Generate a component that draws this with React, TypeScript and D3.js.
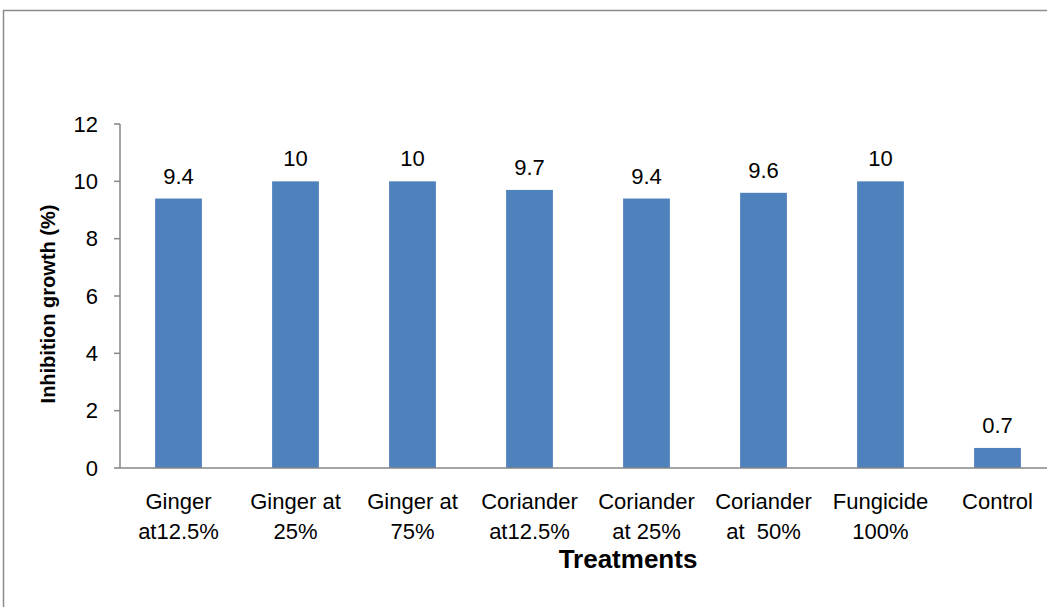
import * as d3 from "d3"

const categories = [
  ["Ginger", "at12.5%"],
  ["Ginger at", "25%"],
  ["Ginger at", "75%"],
  ["Coriander", "at12.5%"],
  ["Coriander", "at 25%"],
  ["Coriander", "at  50%"],
  ["Fungicide", "100%"],
  ["Control"],
]
const values = [9.4, 10, 10, 9.7, 9.4, 9.6, 10, 0.7]
const yTicks = [0, 2, 4, 6, 8, 10, 12]

const W = 1047
const H = 607
const FONT = "'Liberation Sans', Arial, sans-serif"

export default function App() {
  const keys = categories.map((c) => c.join(" "))
  const x = d3.scaleBand().domain(keys).range([120, 1056]).paddingInner(0.6).paddingOuter(0.3)
  const y = d3.scaleLinear().domain([0, 12]).range([468, 124])
  const axisColor = "#868686"

  return (
    <svg
      width={W}
      height={H}
      style={{ position: "absolute", left: 0, top: 0, background: "#fff" }}
      fontFamily={FONT}
    >
      <rect x={3.5} y={10.5} width={W + 20} height={H + 20} fill="none" stroke="#8c8c8c" strokeWidth={1.5} />

      {/* y axis */}
      <line x1={120} x2={120} y1={y(12)} y2={y(0)} stroke={axisColor} strokeWidth={1.5} />
      {yTicks.map((t) => (
        <g key={t}>
          <line x1={114} x2={120} y1={y(t)} y2={y(t)} stroke={axisColor} strokeWidth={1.5} />
          <text x={98} y={y(t)} dy="0.35em" textAnchor="end" fontSize={22} fill="#000">
            {t}
          </text>
        </g>
      ))}

      {/* bars */}
      {values.map((v, i) => (
        <g key={keys[i]}>
          <rect x={x(keys[i])!} y={y(v)} width={x.bandwidth()} height={y(0) - y(v)} fill="#4F81BD" />
          <text
            x={x(keys[i])! + x.bandwidth() / 2}
            y={y(v) - 15}
            textAnchor="middle"
            fontSize={22}
            fill="#000"
          >
            {v}
          </text>
        </g>
      ))}

      {/* x axis */}
      <line x1={120} x2={1056} y1={y(0)} y2={y(0)} stroke={axisColor} strokeWidth={1.5} />
      {categories.map((c, i) => (
        <text
          key={keys[i]}
          x={x(keys[i])! + x.bandwidth() / 2}
          y={509}
          textAnchor="middle"
          fontSize={22}
          fill="#000"
          style={{ whiteSpace: "pre" }}
        >
          {c.map((line, j) => (
            <tspan key={j} x={x(keys[i])! + x.bandwidth() / 2} dy={j === 0 ? 0 : 30}>
              {line}
            </tspan>
          ))}
        </text>
      ))}

      <text x={628} y={568} textAnchor="middle" fontSize={26} fontWeight="bold" fill="#000">
        Treatments
      </text>
      <text
        transform={`translate(55,${(y(0) + y(12)) / 2 + 8}) rotate(-90)`}
        textAnchor="middle"
        fontSize={20}
        fontWeight="bold"
        fill="#000"
      >
        Inhibition growth (%)
      </text>
    </svg>
  )
}
